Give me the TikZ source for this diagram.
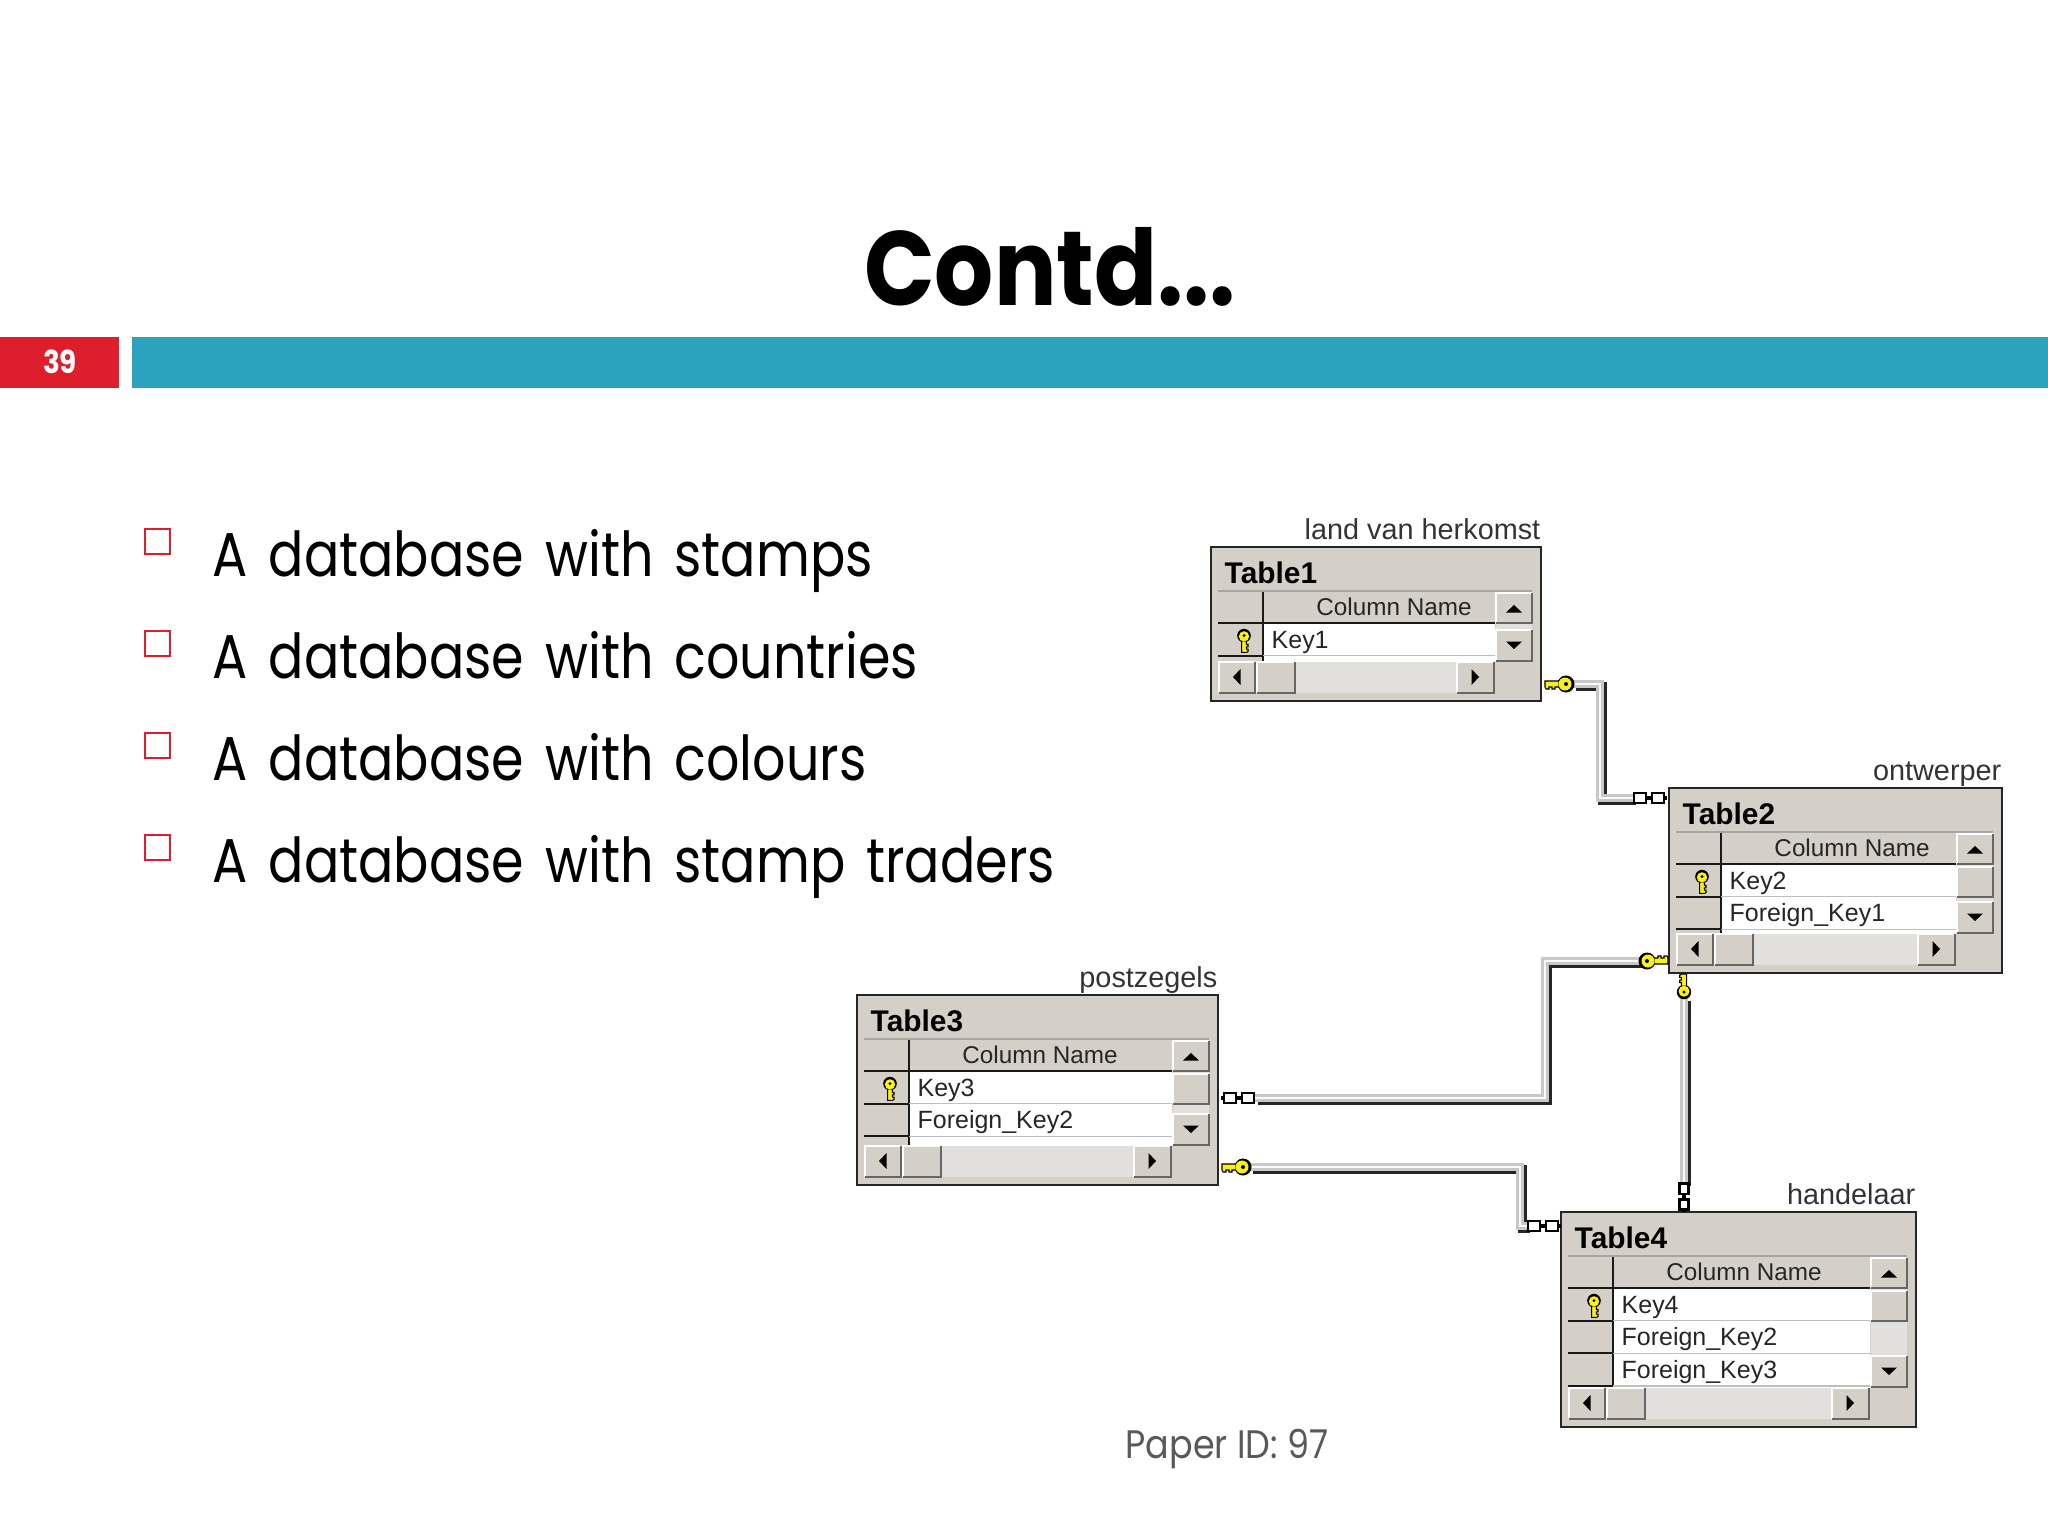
\documentclass[tikz,border=0pt]{standalone}
\usepackage{fontspec}
\setmainfont{Liberation Sans}
\newfontfamily\slidefont[FakeStretch=0.88]{Poppins}
\newfontfamily\itemfont[FakeStretch=0.845, WordSpace=1.5]{Poppins}
\usetikzlibrary{positioning}
\definecolor{barteal}{RGB}{45, 162, 191}
\definecolor{barred}{RGB}{222, 30, 45}
\definecolor{btnface}{RGB}{212, 208, 200}
\definecolor{trackgrey}{RGB}{226, 224, 220}
\definecolor{relcore}{RGB}{200, 200, 200}
\definecolor{keyyellow}{RGB}{250, 240, 20}
\tikzset{
  itemtext/.style={anchor=base west, inner sep=0pt, font=\itemfont\fontsize{17.6pt}{20pt}\selectfont},
  bulletbox/.style={draw=barred, line width=0.7pt, minimum size=0.25cm, inner sep=0pt, anchor=north west},
  tableframe/.style={draw=black!85, line width=0.7pt, fill=btnface, anchor=north west, inner sep=0pt, outer sep=0pt},
  tabletitle/.style={anchor=base west, inner sep=0pt, font=\bfseries\fontsize{8.5pt}{10pt}\selectfont},
  tablecaption/.style={anchor=base east, inner sep=0pt, text=black!80, font=\fontsize{8.2pt}{10pt}\selectfont},
  headtext/.style={anchor=base, inner sep=0pt, text=black!85, font=\fontsize{6.9pt}{9pt}\selectfont},
  rowtext/.style={anchor=base west, inner sep=0pt, text=black!85, font=\fontsize{7.1pt}{9pt}\selectfont},
  relline/.style={draw=relcore, line width=2.4pt,
    preaction={draw=black!85, line width=2.4pt, transform canvas={shift={(0.025cm,-0.025cm)}}},
    postaction={draw=white!90!relcore, line width=0.4pt}},
  keyicon/.pic={
    \fill[black] (-7,0) circle (8.5);
    \draw[black, fill=keyyellow, line width=0.3pt] (-28,-3) -- (-14,-3) -- (-14,3) -- (-18,3) -- (-18,5) -- (-21,5) -- (-21,3) -- (-24,3) -- (-24,5) -- (-27,5) -- (-28,3) -- cycle;
    \fill[keyyellow] (-8,0) circle (6.5);
    \fill[black] (-7,0) circle (2);
  },
  chainend/.pic={
    \fill[black] (0,-2) rectangle (34,2);
    \draw[black, fill=white, line width=0.8pt] (1,-5) rectangle (13,5);
    \draw[black, fill=white, line width=0.8pt] (19,-5) rectangle (31,5);
  },
}
% raised button with light top edge and dark lower edge
\newcommand{\winbtn}[4]{
  \fill[btnface] (#1,#2) rectangle (#3,#4);
  \draw[white, line width=0.4pt] (#1,#4) -- (#1,#2) -- (#3,#2);
  \draw[black!60, line width=0.6pt] (#1,#4) -- (#3,#4) -- (#3,#2);
}
\newcommand{\scrollarrow}[3]{
  \fill[black, shift={(#1,#2)}, rotate=#3] (-8,3.5) -- (8,3.5) -- (0,-4) -- cycle;
}
% name, title, caption, width, height
\newcommand{\dbtable}[5]{
  \def\tablew{#4}
  \node[tableframe, minimum width=#4*0.01cm, minimum height=#5*0.01cm] (#1) at (0,0) {};
  \node[tablecaption] (#1cap) at (#4,-8) {#3};
  \node[tabletitle] (#1title) at (13,36) {#2};
  \fill[white] (52,76) rectangle (#4-46,#5-39);
  \fill[trackgrey] (#4-45,76) rectangle (#4-9,#5-40);
  \fill[trackgrey] (84,#5-39) rectangle (#4-84,#5-8);
  \draw[black!90, line width=0.5pt] (52,44) -- (52,#5-39);
  \draw[black!90, line width=0.6pt] (7,76) -- (#4-46,76);
  \draw[black!35, line width=0.4pt] (7,44) -- (#4-9,44);
  \node[headtext] (#1head) at (183,68) {Column Name};
  \winbtn{#4-45}{46}{#4-9}{76}
  \scrollarrow{#4-27}{62}{0}
  \winbtn{#4-45}{#5-71}{#4-9}{#5-40}
  \scrollarrow{#4-27}{#5-56}{180}
  \winbtn{8}{#5-39}{44}{#5-8}
  \scrollarrow{26}{#5-24}{90}
  \winbtn{46}{#5-39}{84}{#5-8}
  \winbtn{#4-84}{#5-39}{#4-47}{#5-8}
  \scrollarrow{#4-66}{#5-24}{-90}
}
% row number, name of node, text
\newcommand{\dbrow}[3]{
  \node[rowtext] (#2) at (60,101+32.7*#1-32.7) {#3};
  \draw[black!90, line width=0.6pt] (7,76+32.7*#1) -- (52,76+32.7*#1);
  \draw[black!25, line width=0.4pt] (52,76+32.7*#1) -- (\tablew-46,76+32.7*#1);
}
\newcommand{\dbthumb}[1]{\winbtn{#1-45}{79}{#1-9}{109}}

\begin{document}
\begin{tikzpicture}[x=0.01cm, y=-0.01cm]
  \useasboundingbox (0,0) rectangle (2048,1536);

  % slide head
  \node[inner sep=0pt, anchor=base, font=\slidefont\bfseries\fontsize{30pt}{34pt}\selectfont] (slidetitle) at (1050,305) {Contd...};
  \fill[barred] (0,337) rectangle (119,388);
  \fill[barteal] (132,337) rectangle (2048,388);
  \node[inner sep=0pt, text=white, font=\slidefont\bfseries\fontsize{9pt}{11pt}\selectfont] (pagenum) at (60,362) {39};

  % list on the left
  \node[bulletbox] (bullet1) at (144,528) {};
  \node[bulletbox] (bullet2) at (144,630) {};
  \node[bulletbox] (bullet3) at (144,732) {};
  \node[bulletbox] (bullet4) at (144,834) {};
  \node[itemtext] (item1) at (212,576) {A database with stamps};
  \node[itemtext] (item2) at (212,678) {A database with countries};
  \node[itemtext] (item3) at (212,780) {A database with colours};
  \node[itemtext] (item4) at (212,882) {A database with stamp traders};
  \node[inner sep=0pt, anchor=base west, text=black!65, font=\slidefont\fontsize{11.3pt}{13pt}\selectfont] (paperid) at (1125,1458) {Paper ID: 97};

  % connector ends
  \coordinate (t1key) at (1573,684);
  \coordinate (t2many) at (1633,798);
  \coordinate (t2key) at (1640,961);
  \coordinate (t3many) at (1255,1098);
  \coordinate (t3key) at (1250,1167);
  \coordinate (t4many) at (1527,1226);
  \coordinate (t2keyb) at (1684,998);
  \coordinate (t4manyb) at (1684,1183);

  \draw[relline] (t1key) -- ++(27,0) |- (t2many);
  \draw[relline] (t2key) -- ++(-95,0) |- (t3many);
  \draw[relline] (t3key) -- ++(270,0) |- (t4many);
  \draw[relline] (t2keyb) -- (t4manyb);

  % Table1
  \begin{scope}[shift={(1211,547)}]
    \dbtable{tableone}{Table1}{land van herkomst}{330}{154}
    \dbrow{1}{keyone}{Key1}
    \pic[scale=0.8, rotate=90] at (33,83) {keyicon};
  \end{scope}

  % Table2
  \begin{scope}[shift={(1669,788)}]
    \dbtable{tabletwo}{Table2}{ontwerper}{333}{185}
    \dbthumb{333}
    \dbrow{1}{keytwo}{Key2}
    \dbrow{2}{fktwo}{Foreign\_Key1}
    \pic[scale=0.8, rotate=90] at (33,83) {keyicon};
  \end{scope}

  % Table3
  \begin{scope}[shift={(857,995)}]
    \dbtable{tablethree}{Table3}{postzegels}{361}{190}
    \dbthumb{361}
    \dbrow{1}{keythree}{Key3}
    \dbrow{2}{fkthree}{Foreign\_Key2}
    \pic[scale=0.8, rotate=90] at (33,83) {keyicon};
  \end{scope}

  % Table4
  \begin{scope}[shift={(1561,1212)}]
    \dbtable{tablefour}{Table4}{handelaar}{355}{215}
    \dbthumb{355}
    \dbrow{1}{keyfour}{Key4}
    \dbrow{2}{fkfourb}{Foreign\_Key2}
    \dbrow{3}{fkfourc}{Foreign\_Key3}
    \pic[scale=0.8, rotate=90] at (33,83) {keyicon};
  \end{scope}

  % key and many ends on the connectors
  \pic at (t1key) {keyicon};
  \pic[rotate=180] at (t2key) {keyicon};
  \pic at (t3key) {keyicon};
  \pic[rotate=-90, scale=0.85] at (t2keyb) {keyicon};
  \pic at (t2many) {chainend};
  \pic[rotate=180] at (t3many) {chainend};
  \pic at (t4many) {chainend};
  \pic[rotate=-90, scale=0.85] at (t4manyb) {chainend};
\end{tikzpicture}
\end{document}
